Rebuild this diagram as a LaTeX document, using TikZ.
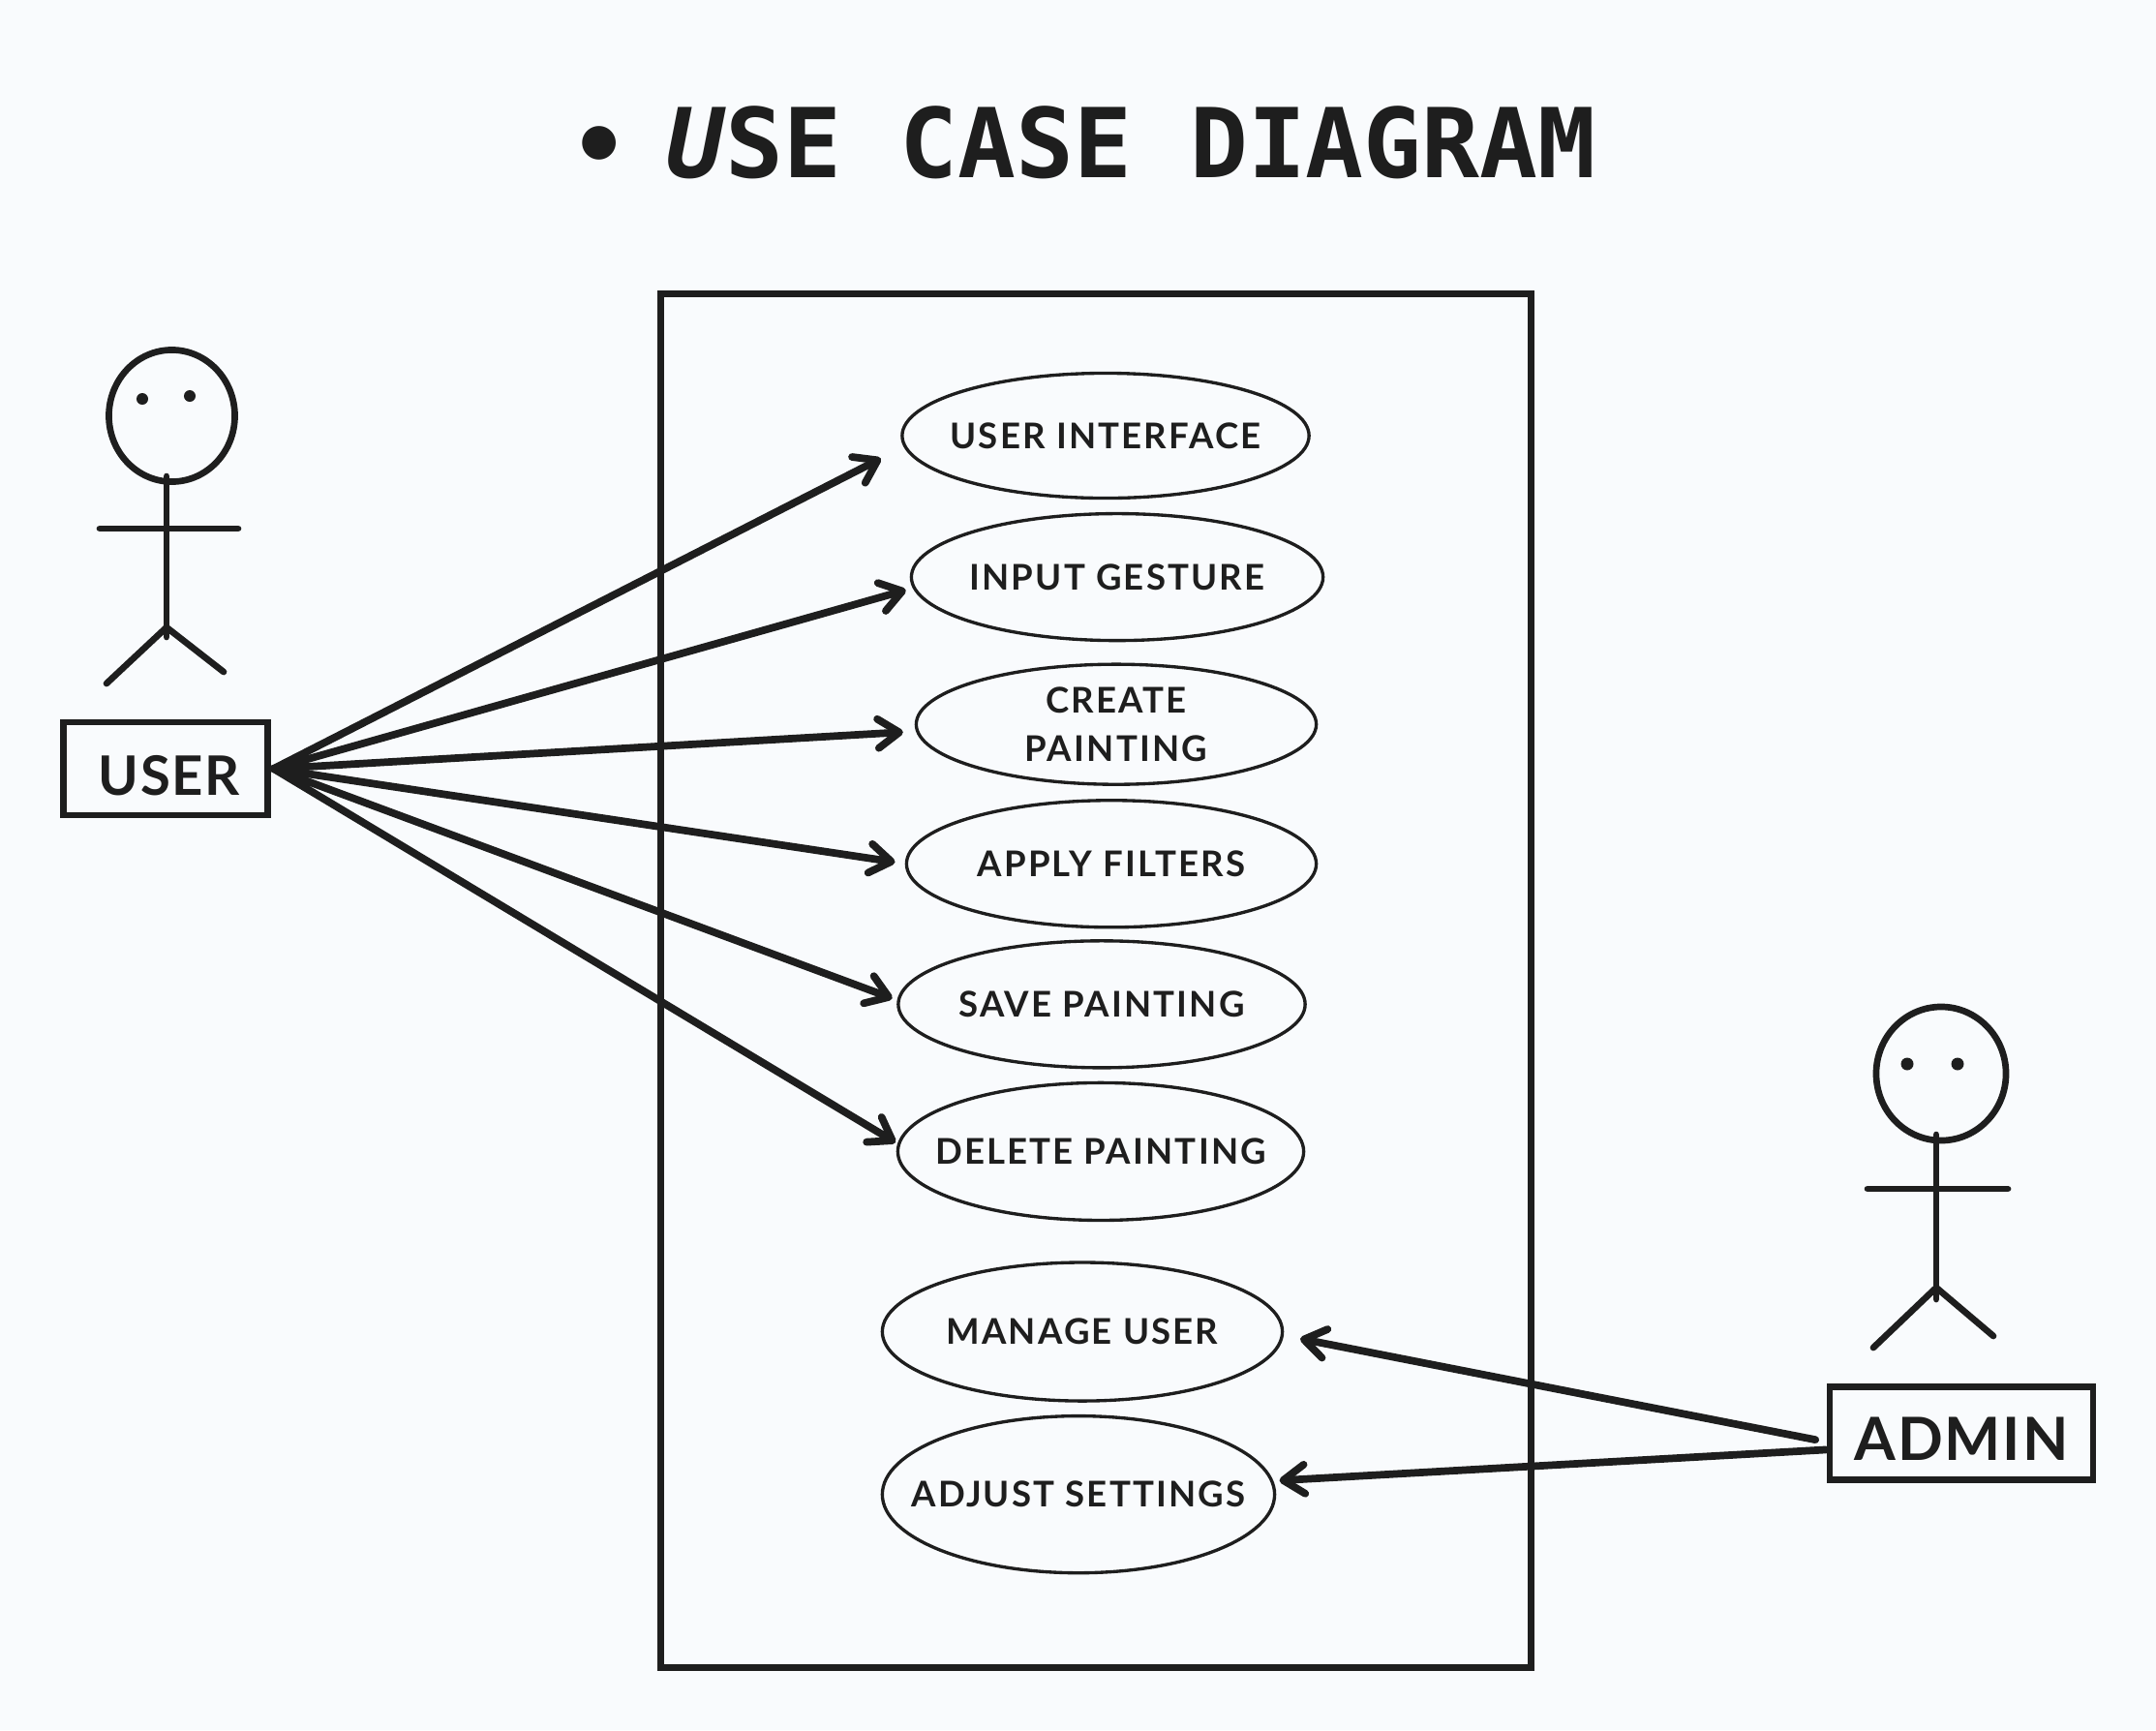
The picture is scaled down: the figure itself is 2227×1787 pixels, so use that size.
\documentclass[tikz,border=0pt]{standalone}
\usepackage{fontspec}
\usepackage{xcolor}
\usepackage{tikz}
\usetikzlibrary{shapes.geometric, arrows.meta, positioning}
\setmainfont{Lato}
\setmonofont{DejaVu Sans Mono}
\newfontfamily\casefont{Lato}[LetterSpace=6]
\newfontfamily\actorfont{Lato}[LetterSpace=3]
\newcommand{\caselabel}[1]{\makebox[0pt]{#1}}
\definecolor{ink}{HTML}{1E1E1E}
\definecolor{paper}{HTML}{F9FBFD}

\begin{document}
\begin{tikzpicture}[
  x=0.01cm, y=-0.01cm,
  titletext/.style={font=\ttfamily\bfseries\fontsize{28.3}{30}\selectfont, text=ink, inner sep=0pt, outer sep=0pt},
  usecase/.style={ellipse, draw=ink, line width=0.95pt, align=center, inner sep=0pt, outer sep=0pt, text=ink, font=\casefont\bfseries\fontsize{10.4}{14.2}\selectfont},
  actorbox/.style={rectangle, draw=ink, line width=1.9pt, align=center, inner sep=0pt, outer sep=0pt, text=ink, font=\actorfont\bfseries\fontsize{16}{18}\selectfont},
  stick/.style={draw=ink, line width=1.9pt, line cap=round},
  head/.style={ellipse, draw=ink, line width=1.9pt, inner sep=0pt, outer sep=0pt},
  eye/.style={circle, fill=ink, inner sep=0pt, minimum size=0.12cm},
  arrow/.style={-{Straight Barb[length=2.2mm, width=3.0mm, round]}, draw=ink, line width=2.2pt, line cap=round}
]
  \fill[paper] (0,0) rectangle (2227,1787);

  % title
  \node[titletext, anchor=base west] (title) at (688,183) {\textit{U}SE CASE DIAGRAM};
  \node[titletext, font=\ttfamily\bfseries\fontsize{28}{28}\selectfont] (bullet) at (619,158) {•};

  % system frame
  \node[rectangle, draw=ink, line width=2.05pt, minimum width=8.99cm, minimum height=14.18cm] (system) at (1132,1013) {};

  % use cases
  \node[usecase, minimum width=4.20cm, minimum height=1.29cm] (uiface) at (1142,450) {\caselabel{USER INTERFACE}};
  \node[usecase, minimum width=4.25cm, minimum height=1.31cm, below=0.16cm of uiface, xshift=0.12cm] (gesture) {\caselabel{INPUT GESTURE}};
  \node[usecase, minimum width=4.13cm, minimum height=1.24cm, below=0.245cm of gesture, xshift=-0.01cm] (create) {CREATE\\PAINTING};
  \node[usecase, minimum width=4.23cm, minimum height=1.31cm, below=0.165cm of create, xshift=-0.05cm] (filters) {\caselabel{APPLY FILTERS}};
  \node[usecase, minimum width=4.20cm, minimum height=1.31cm, below=0.14cm of filters, xshift=-0.10cm] (save) {\caselabel{SAVE PAINTING}};
  \node[usecase, minimum width=4.19cm, minimum height=1.42cm, below=0.155cm of save, xshift=-0.01cm] (delete) {\caselabel{DELETE PAINTING}};
  \node[usecase, minimum width=4.13cm, minimum height=1.43cm, below=0.435cm of delete, xshift=-0.19cm] (manage) {\caselabel{MANAGE USER}};
  \node[usecase, minimum width=4.05cm, minimum height=1.62cm, below=0.155cm of manage, xshift=-0.04cm] (settings) {\caselabel{ADJUST SETTINGS}};

  % user actor
  \node[head, minimum width=1.30cm, minimum height=1.36cm] (userhead) at (177.5,429.5) {};
  \node[eye] (usereyea) at (147,412) {};
  \node[eye] (usereyeb) at (196,409) {};
  \coordinate (userneck) at (172,492);
  \coordinate (userhip) at (172,648);
  \draw[stick] (userneck) -- (172,658);
  \draw[stick] (103,546) -- (246,546);
  \draw[stick] (110,706) -- (userhip) -- (231,694);
  \node[actorbox, minimum width=2.11cm, minimum height=0.96cm] (userbox) at (171,794) {\hspace{0.08cm}\raisebox{-0.275cm}[0.3cm][0.3cm]{USER}};
  \coordinate[right=0.06cm of userbox.east] (userport);

  % admin actor
  \node[head, minimum width=1.34cm, minimum height=1.38cm] (adminhead) at (2005,1109) {};
  \node[eye, minimum size=0.13cm] (admineyea) at (1970,1099) {};
  \node[eye, minimum size=0.13cm] (admineyeb) at (2022,1099) {};
  \coordinate (adminneck) at (2000,1172);
  \coordinate (adminhip) at (2000,1330);
  \draw[stick] (adminneck) -- (2000,1342);
  \draw[stick] (1929,1228) -- (2074,1228);
  \draw[stick] (1935,1392) -- (adminhip) -- (2059,1380);
  \node[actorbox, font=\actorfont\bfseries\fontsize{17.5}{18}\selectfont, minimum width=2.72cm, minimum height=0.96cm] (adminbox) at (2026,1480.5) {\raisebox{-0.28cm}[0.3cm][0.3cm]{ADMIN}};

  % connectors
  \draw[arrow, shorten >=0.28cm] (userport) -- (uiface.183);
  \draw[arrow, shorten >=0.09cm] (userport) -- (gesture.183);
  \draw[arrow, shorten >=0.15cm] (userport) -- (create.182);
  \draw[arrow, shorten >=0.12cm] (userport) -- (filters.west);
  \draw[arrow, shorten >=0.07cm] (userport) -- (save.179);
  \draw[arrow, shorten >=0.04cm] (userport) -- (delete.178);
  \draw[arrow, shorten <=0.15cm, shorten >=0.19cm] (adminbox.184.5) -- (manage.-1);
  \draw[arrow, shorten <=0.04cm, shorten >=0.08cm] (adminbox.187) -- (settings.4);
\end{tikzpicture}
\end{document}
